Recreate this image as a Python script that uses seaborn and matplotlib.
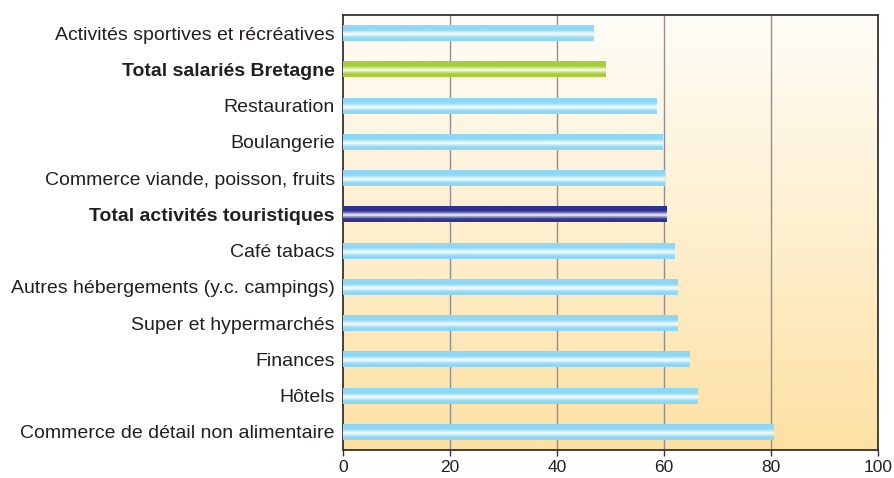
import numpy as np
import pandas as pd
import matplotlib
matplotlib.use("Agg")
import matplotlib.pyplot as plt
import seaborn as sns
from matplotlib.colors import to_rgb

categories = [
    "Activités sportives et récréatives",
    "Total salariés Bretagne",
    "Restauration",
    "Boulangerie",
    "Commerce viande, poisson, fruits",
    "Total activités touristiques",
    "Café tabacs",
    "Autres hébergements (y.c. campings)",
    "Super et hypermarchés",
    "Finances",
    "Hôtels",
    "Commerce de détail non alimentaire",
]
values = [46.9, 49.1, 58.6, 59.7, 60.1, 60.4, 62.0, 62.5, 62.5, 64.8, 66.3, 80.5]
bar_colors = ["#8ed8f6", "#a8cd38", "#8ed8f6", "#8ed8f6", "#8ed8f6", "#2e3192",
              "#8ed8f6", "#8ed8f6", "#8ed8f6", "#8ed8f6", "#8ed8f6", "#8ed8f6"]
bold_labels = ["Total salariés Bretagne", "Total activités touristiques"]
x_ticks = [0, 20, 40, 60, 80, 100]

sns.set_theme(style="white")
plt.rcParams["font.family"] = ["Liberation Sans", "DejaVu Sans"]

fig = plt.figure(figsize=(8.94, 4.78), dpi=100)
ax = fig.add_axes([343 / 894, 1 - 450 / 478, (878 - 343) / 894, (450 - 15) / 478])

df = pd.DataFrame({"cat": categories, "val": values})
sns.barplot(data=df, x="val", y="cat", hue="cat", palette=bar_colors, legend=False,
            width=0.44, ax=ax, orient="h", saturation=1, zorder=3)

# cylinder-like gradient inside each bar
n = 64
t = np.linspace(0, 1, n)
w = np.clip(1 - np.abs(t - 0.56) / 0.26, 0, 1) ** 1.1 * 0.97
for patch, col in zip(ax.patches, bar_colors):
    x0, y0 = patch.get_x(), patch.get_y()
    pw, ph = patch.get_width(), patch.get_height()
    base = np.array(to_rgb(col))
    img = base[None, :] * (1 - w[:, None]) + w[:, None]
    img = img[:, None, :]
    ax.imshow(img, extent=[x0, x0 + pw, y0 + ph, y0], origin="upper",
              aspect="auto", zorder=4, interpolation="bilinear")
    patch.set_edgecolor("none")

# background gradient
top = np.array(to_rgb("#fffdf8"))
bot = np.array(to_rgb("#fde1a4"))
tt = np.linspace(0, 1, 256)[:, None]
bg = (top[None, :] * (1 - tt) + bot[None, :] * tt)[:, None, :]
ax.imshow(bg, extent=[0, 100, 11.5, -0.5], origin="upper", aspect="auto",
          zorder=-1, interpolation="bilinear")

ax.set_xlim(0, 100)
ax.set_ylim(11.5, -0.5)
ax.set_xticks(x_ticks)
ax.set_xticklabels([str(v) for v in x_ticks])
for xv in x_ticks[1:-1]:
    ax.axvline(xv, color="#8f8f8f", lw=1.0, zorder=1)

ax.set_xlabel("")
ax.set_ylabel("")
for s in ax.spines.values():
    s.set_visible(True)
    s.set_color("#333333")
    s.set_linewidth(1.3)

ax.tick_params(axis="y", length=0, pad=6, labelsize=14, labelcolor="#231f20")
ax.tick_params(axis="x", length=4, width=1.0, direction="out", color="#333333",
               pad=3, labelsize=12.5, labelcolor="#231f20", bottom=True)
for lab in ax.get_yticklabels():
    if lab.get_text() in bold_labels:
        lab.set_fontweight("bold")

fig.savefig("out.png", dpi=100)
